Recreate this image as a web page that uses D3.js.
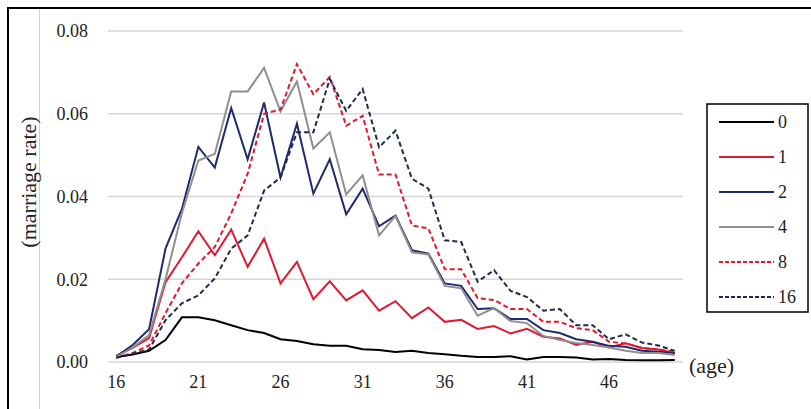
<!DOCTYPE html>
<html lang="en">
<head>
<meta charset="UTF-8">
<title>marriage rate</title>
<script src="https://cdn.jsdelivr.net/npm/d3@7"></script>
<style>
body,html{margin:0;padding:0;background:#fff;}
</style>
</head>
<body>
<svg width="811" height="409"></svg>
<script>
// ages 16..50
let ages = d3.range(16, 51);
let seriesNames = ["0", "1", "2", "4", "8", "16"];
let yTicks = [0, 0.02, 0.04, 0.06, 0.08];
let xTickAges = [16, 21, 26, 31, 36, 41, 46];

let s0 = [0.0012,0.0018,0.0027,0.0053,0.0108,0.0108,0.0101,0.0089,0.0077,0.0070,0.0055,0.0051,0.0043,0.0039,0.0039,
  0.0031,0.0029,0.0024,0.0027,0.0022,0.0019,0.0015,0.0012,0.0012,0.0014,0.0006,0.0012,0.0012,0.0011,0.0006,0.0007,0.0005,0.0004,0.0004,0.0005];
let s1 = [0.0015,0.0034,0.0058,0.0193,0.0253,0.0316,0.0258,0.0320,0.0230,0.0298,0.0190,0.0242,0.0152,0.0195,0.0149,
  0.0173,0.0124,0.0147,0.0106,0.0132,0.0097,0.0102,0.0080,0.0087,0.0069,0.0080,0.0061,0.0057,0.0041,0.0049,0.0035,0.0045,0.0034,0.0030,0.0021];
let s2 = [0.0013,0.0041,0.0079,0.0274,0.0370,0.0520,0.0470,0.0614,0.0490,0.0627,0.0446,0.0576,0.0407,0.0490,0.0357,
  0.0419,0.0328,0.0354,0.0270,0.0262,0.0190,0.0184,0.0128,0.0130,0.0104,0.0104,0.0077,0.0070,0.0055,0.0049,0.0039,0.0037,0.0027,0.0025,0.0022];
let s4 = [0.0012,0.0035,0.0065,0.0200,0.0360,0.0487,0.0503,0.0654,0.0654,0.0711,0.0606,0.0678,0.0516,0.0555,0.0405,
  0.0451,0.0306,0.0353,0.0265,0.0260,0.0184,0.0178,0.0112,0.0130,0.0099,0.0094,0.0063,0.0053,0.0046,0.0041,0.0035,0.0027,0.0022,0.0022,0.0017];
let s8 = [0.0010,0.0022,0.0040,0.0118,0.0190,0.0238,0.0278,0.0359,0.0455,0.0600,0.0610,0.0720,0.0647,0.0689,0.0571,
  0.0595,0.0453,0.0453,0.0330,0.0323,0.0224,0.0224,0.0154,0.0150,0.0128,0.0128,0.0097,0.0097,0.0082,0.0077,0.0049,0.0045,0.0034,0.0030,0.0025];
let s16 = [0.0010,0.0020,0.0030,0.0101,0.0142,0.0161,0.0202,0.0274,0.0306,0.0414,0.0446,0.0555,0.0555,0.0684,0.0607,
  0.0660,0.0519,0.0559,0.0443,0.0419,0.0294,0.0290,0.0194,0.0222,0.0172,0.0157,0.0124,0.0128,0.0089,0.0089,0.0055,0.0067,0.0047,0.0040,0.0027];

let allSeries = [s0, s1, s2, s4, s8, s16];
let colors = ["#000000", "#e0192f", "#1f2a6c", "#8f8f8f", "#e0192f", "#1f2a4e"];
let dashes = [null, null, null, null, "5,3", "5,3"];
let serif = "'Liberation Serif', serif";

let svg = d3.select("svg"),
  margin = {top: 31, left: 108, right: 128, bottom: 47},
  areaWidth = 811 - margin.left - margin.right,
  areaHeight = 409 - margin.top - margin.bottom,
  g = svg.append("g").attr("transform", `translate(${margin.left},${margin.top})`);

// frame pieces (top + left)
svg.append("line").attr("x1", 8).attr("x2", 811).attr("y1", 8).attr("y2", 8)
  .attr("stroke", "#000").attr("stroke-width", 2);
svg.append("line").attr("x1", 8).attr("x2", 8).attr("y1", 7).attr("y2", 409)
  .attr("stroke", "#000").attr("stroke-width", 2);
svg.append("line").attr("x1", 39.5).attr("x2", 39.5).attr("y1", 9).attr("y2", 409)
  .attr("stroke", "#d0d0d0").attr("stroke-width", 1);

let xScale = d3.scaleBand().domain(ages).range([0, areaWidth]);
let yScale = d3.scaleLinear().domain([0, 0.08]).range([areaHeight, 0]);

let xPos = d => xScale(d) + xScale.bandwidth() / 2;

// gridlines
g.append("g").selectAll("line").data(yTicks).enter().append("line")
  .attr("x1", 0).attr("x2", areaWidth)
  .attr("y1", d => yScale(d)).attr("y2", d => yScale(d))
  .attr("stroke", "#d6d6d6").attr("stroke-width", 1.5);

// y axis labels
let yAxis = d3.axisLeft(yScale).tickValues(yTicks).tickFormat(d3.format(".2f")).tickSize(0).tickPadding(20);
let yGroup = g.append("g").call(yAxis).attr("font-family", serif);
yGroup.select(".domain").remove();
yGroup.selectAll("text").attr("font-size", 18).attr("fill", "#222").style("font-family", serif);

// x axis labels
let xAxis = d3.axisBottom(xScale).tickValues(xTickAges).tickSize(0).tickPadding(13);
let xGroup = g.append("g").attr("transform", `translate(0,${areaHeight})`).call(xAxis).attr("font-family", serif);
xGroup.select(".domain").remove();
xGroup.selectAll("text").attr("font-size", 18).attr("fill", "#222").style("font-family", serif);

// lines
let line = d3.line()
  .x((d, i) => xPos(ages[i]))
  .y(d => yScale(d));

g.append("g").selectAll("path").data(allSeries).enter().append("path")
  .attr("d", line)
  .attr("fill", "none")
  .attr("stroke", (d, i) => colors[i])
  .attr("stroke-width", 2)
  .attr("stroke-dasharray", (d, i) => dashes[i])
  .attr("stroke-linejoin", "miter");

// axis titles
svg.append("text")
  .attr("transform", "translate(36,182) rotate(-90)")
  .attr("text-anchor", "middle")
  .attr("font-size", 22)
  .attr("fill", "#222")
  .style("font-family", serif)
  .text("(marriage rate)");

svg.append("text")
  .attr("x", 689).attr("y", 373)
  .attr("font-size", 22)
  .attr("fill", "#222")
  .style("font-family", serif)
  .text("(age)");

// legend
let legend = svg.append("g").attr("transform", "translate(707,104)");
legend.append("rect")
  .attr("width", 101).attr("height", 208)
  .attr("fill", "#fff").attr("stroke", "#000").attr("stroke-width", 1.5);

let items = legend.selectAll("g.item").data(seriesNames).enter().append("g")
  .attr("class", "item")
  .attr("transform", (d, i) => `translate(0,${18 + i * 35})`);
items.append("line")
  .attr("x1", 12).attr("x2", 67).attr("y1", 0).attr("y2", 0)
  .attr("stroke", (d, i) => colors[i])
  .attr("stroke-width", 2)
  .attr("stroke-dasharray", (d, i) => dashes[i] ? "4,2" : null);
items.append("text")
  .attr("x", 71).attr("y", 6)
  .attr("font-size", 18)
  .attr("fill", "#222")
  .style("font-family", serif)
  .text(d => d);
</script>
</body>
</html>
